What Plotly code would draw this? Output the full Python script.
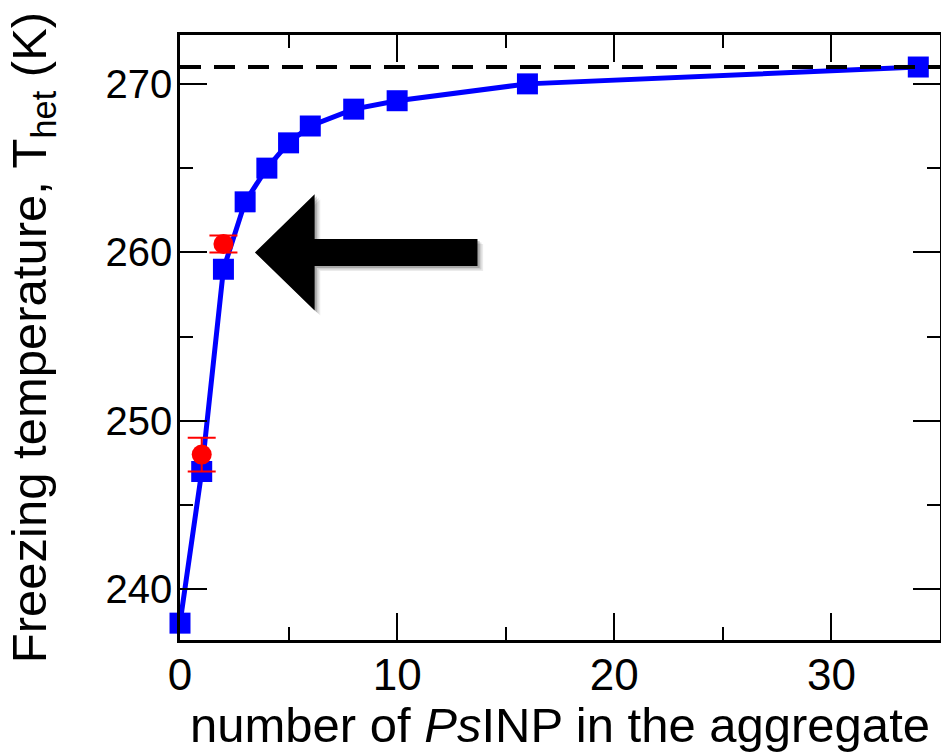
import plotly.graph_objects as go

# Data
n_inp = [0, 1, 2, 3, 4, 5, 6, 8, 10, 16, 34]
t_het = [238.0, 247.0, 259.0, 263.0, 265.0, 266.5, 267.5, 268.5, 269.0, 270.0, 271.0]
exp_n = [1, 2]
exp_t = [248.0, 260.5]
exp_err = [1.0, 0.5]
asymptote = 271.0

# Arrow (annotation geometry in data units)
arrow_tip = (3.45, 260.0)
arrow_head_base_x = 6.2
arrow_tail_x = 13.7
arrow_head_half = 3.45
arrow_shaft_half = 0.8

FONT = "Arial, Liberation Sans, sans-serif"

fig = go.Figure()

fig.add_trace(go.Scatter(
    x=n_inp, y=t_het, mode="lines+markers",
    line=dict(color="#0000ff", width=5),
    marker=dict(symbol="square", size=21, color="#0000ff"),
    cliponaxis=False, showlegend=False,
))

fig.add_trace(go.Scatter(
    x=exp_n, y=exp_t, mode="markers",
    marker=dict(symbol="circle", size=20, color="#ff0000"),
    error_y=dict(type="data", array=exp_err, color="#ff0000", thickness=2, width=14),
    cliponaxis=False, showlegend=False,
))

fig.add_hline(y=asymptote, line=dict(color="black", width=4, dash="21px,13px"), layer="above")


def arrow_path(dx=0.0, dy=0.0):
    tx, ty = arrow_tip
    pts = [
        (tx, ty),
        (arrow_head_base_x, ty + arrow_head_half),
        (arrow_head_base_x, ty + arrow_shaft_half),
        (arrow_tail_x, ty + arrow_shaft_half),
        (arrow_tail_x, ty - arrow_shaft_half),
        (arrow_head_base_x, ty - arrow_shaft_half),
        (arrow_head_base_x, ty - arrow_head_half),
    ]
    return "M " + " L ".join(f"{x + dx},{y + dy}" for x, y in pts) + " Z"

# soft shadow
for dx, dy, op in [(0.26, -0.30, 0.08), (0.18, -0.21, 0.12), (0.10, -0.12, 0.18)]:
    fig.add_shape(type="path", path=arrow_path(dx, dy), xref="x", yref="y",
                  fillcolor="black", opacity=op, line=dict(width=0), layer="above")
fig.add_shape(type="path", path=arrow_path(), xref="x", yref="y",
              fillcolor="black", line=dict(width=0), layer="above")

axis_common = dict(
    showline=True, linecolor="black", linewidth=2.5, mirror="ticks",
    ticks="inside", ticklen=27, tickwidth=2, tickcolor="black",
    showgrid=False, zeroline=False, automargin=False,
)

fig.update_xaxes(
    range=[0, 35], dtick=10, tick0=0,
    minor=dict(dtick=5, ticklen=13, tickwidth=2, tickcolor="black", ticks="inside", showgrid=False),
    tickfont=dict(family=FONT, size=44, color="black"),
    ticklabelstandoff=-6,
    title=dict(text="number of <i>Ps</i>INP in the aggregate",
               font=dict(family=FONT, size=49, color="black"), standoff=0),
    **axis_common,
)
fig.update_yaxes(
    range=[237.0, 272.9], dtick=10, tick0=240,
    minor=dict(dtick=5, ticklen=13, tickwidth=2, tickcolor="black", ticks="inside", showgrid=False),
    tickfont=dict(family=FONT, size=40, color="black"),
    ticklabelstandoff=-3,
    title=dict(text="Freezing temperature, T<sub>het</sub> (K)",
               font=dict(family=FONT, size=49, color="black"), standoff=44),
    **axis_common,
)

fig.update_layout(
    width=941, height=752,
    margin=dict(l=180, r=1, t=35, b=112),
    paper_bgcolor="white", plot_bgcolor="white",
    font=dict(family=FONT, color="black"),
)

fig.write_html("out.html", config={"displayModeBar": False},
               post_script="document.body.style.margin='0';")
